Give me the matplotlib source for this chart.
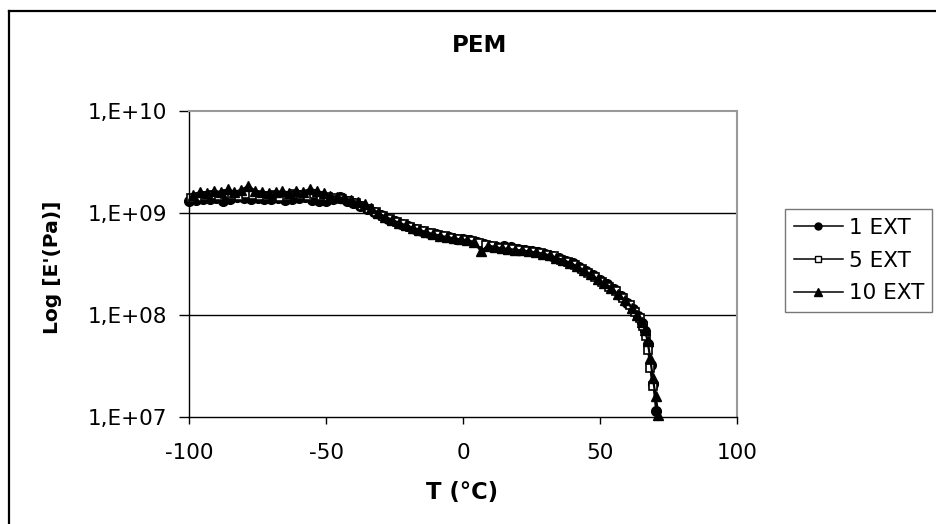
import math
import matplotlib
matplotlib.use("Agg")
import matplotlib.pyplot as plt
from matplotlib.lines import Line2D
from matplotlib.ticker import FixedLocator, FuncFormatter, NullLocator

# ---- data (E' in units of 1e9 Pa) ----
T_1 = [-100, -97.5, -95, -92.5, -90, -87.5, -85, -82.5, -80, -77.5, -75, -72.5,
       -70, -67.5, -65, -62.5, -60, -57.5, -55, -52.5, -50, -47.5, -45, -42.5,
       -40, -37.5, -35, -32.5, -30, -27.5, -25, -22.5, -20, -17.5, -15, -12.5,
       -10, -7.5, -5, -2.5, 0, 2.5, 5, 7.5, 10, 12.5, 15, 17.5, 20, 22.5, 25,
       27.5, 30, 32.5, 35, 37.5, 40, 42.5, 45, 47.5, 50, 52.5, 55, 57.5, 60,
       62, 64, 65.5, 66.5, 67.5, 68.5, 69.5, 70.5]
E_1 = [1.30, 1.34, 1.36, 1.38, 1.40, 1.30, 1.38, 1.42, 1.40, 1.38, 1.40, 1.36,
       1.38, 1.40, 1.35, 1.36, 1.40, 1.42, 1.34, 1.30, 1.32, 1.36, 1.45, 1.32,
       1.25, 1.18, 1.10, 1.02, 0.95, 0.88, 0.83, 0.78, 0.74, 0.70, 0.67, 0.64,
       0.62, 0.60, 0.58, 0.56, 0.55, 0.54, 0.52, 0.50, 0.48, 0.46, 0.47, 0.46,
       0.44, 0.43, 0.42, 0.41, 0.40, 0.38, 0.36, 0.34, 0.32, 0.295, 0.27, 0.245,
       0.22, 0.20, 0.18, 0.155, 0.132,
       0.115, 0.098, 0.083, 0.070, 0.052, 0.032, 0.021, 0.0115]

T_5 = [-99.2, -96.7, -94.2, -91.7, -89.2, -86.7, -84.2, -81.7, -79.2, -76.7,
       -74.2, -71.7, -69.2, -66.7, -64.2, -61.7, -59.2, -56.7, -54.2, -51.7,
       -49.2, -46.7, -44.2, -41.7, -39.2, -36.7, -34.2, -31.7, -29.2, -26.7,
       -24.2, -21.7, -19.2, -16.7, -14.2, -11.7, -9.2, -6.7, -4.2, -1.7, 0.8,
       3.3, 5.8, 8.3, 10.8, 13.3, 15.8, 18.3, 20.8, 23.3, 25.8, 28.3, 30.8,
       33.3, 35.8, 38.3, 40.8, 43.3, 45.8, 48.3, 50.8, 53.3, 55.8, 58.3, 60.8,
       62.8, 64.5, 65.8, 66.8, 67.6, 68.4, 69.2]
E_5 = [1.40, 1.45, 1.48, 1.50, 1.46, 1.52, 1.50, 1.48, 1.52, 1.50,
       1.46, 1.48, 1.50, 1.45, 1.48, 1.52, 1.50, 1.48, 1.52, 1.46,
       1.42, 1.40, 1.36, 1.32, 1.26, 1.18, 1.10, 1.02, 0.94, 0.88,
       0.82, 0.78, 0.73, 0.69, 0.66, 0.63, 0.61, 0.59, 0.57, 0.56, 0.545,
       0.53, 0.51, 0.49, 0.47, 0.455, 0.45, 0.44, 0.435, 0.425, 0.415, 0.405,
       0.39, 0.375, 0.35, 0.33, 0.31, 0.285, 0.26, 0.235, 0.21, 0.19, 0.17,
       0.148, 0.125,
       0.108, 0.093, 0.078, 0.062, 0.045, 0.030, 0.020]

T_10 = [-98.4, -95.9, -93.4, -90.9, -88.4, -85.9, -83.4, -80.9, -78.4, -75.9,
        -73.4, -70.9, -68.4, -65.9, -63.4, -60.9, -58.4, -55.9, -53.4, -50.9,
        -48.4, -45.9, -43.4, -40.9, -38.4, -35.9, -33.4, -30.9, -28.4, -25.9,
        -23.4, -20.9, -18.4, -15.9, -13.4, -10.9, -8.4, -5.9, -3.4, -0.9, 1.6,
        4.1, 6.6, 9.1, 11.6, 14.1, 16.6, 19.1, 21.6, 24.1, 26.6, 29.1, 31.6,
        34.1, 36.6, 39.1, 41.6, 44.1, 46.6, 49.1, 51.6, 54.1, 56.6, 59.1, 61.6,
        63.5, 65.2, 66.4, 67.4, 68.3, 69.3, 70.3, 71.3]
E_10 = [1.50, 1.62, 1.58, 1.66, 1.60, 1.70, 1.62, 1.68, 1.85, 1.65,
        1.62, 1.58, 1.60, 1.64, 1.58, 1.66, 1.62, 1.72, 1.66, 1.56,
        1.48, 1.44, 1.40, 1.34, 1.28, 1.22, 1.12, 1.00, 0.92, 0.86,
        0.80, 0.76, 0.72, 0.68, 0.65, 0.62, 0.60, 0.58, 0.565, 0.55, 0.54,
        0.52, 0.42, 0.48, 0.465, 0.45, 0.445, 0.435, 0.43, 0.42, 0.41, 0.40,
        0.385, 0.365, 0.345, 0.325, 0.30, 0.275, 0.25, 0.225, 0.205, 0.185,
        0.16, 0.14, 0.118,
        0.100, 0.085, 0.072, 0.055, 0.038, 0.024, 0.016, 0.0105]

labels = ["1 EXT", "5 EXT", "10 EXT"]
x_ticks = [-100, -50, 0, 50, 100]
y_ticks = [1e7, 1e8, 1e9, 1e10]
title = "PEM"
x_label = "T (°C)"
y_label = "Log [E'(Pa)]"

plt.rcParams['font.family'] = ['DejaVu Sans']
plt.rcParams['axes.unicode_minus'] = False

W, H = 936, 524
fig = plt.figure(figsize=(W / 100, H / 100), dpi=100)
fig.patch.set_facecolor("white")
ax = fig.add_axes([189 / W, 1 - 417 / H, (737 - 189) / W, (417 - 111) / H])

series = [(T_1, E_1, dict(marker='o', ms=7, mfc='black', mec='black')),
          (T_5, E_5, dict(marker='s', ms=6, mfc='white', mec='black', mew=1.2)),
          (T_10, E_10, dict(marker='^', ms=7.5, mfc='black', mec='black'))]
for (t, e, st), lab in zip(series, labels):
    ax.plot(t, [v * 1e9 for v in e], color='black', lw=1.6,
            clip_on=False, **st)

ax.set_yscale('log')
ax.set_xlim(-100, 100)
ax.set_ylim(1e7, 1e10)
ax.xaxis.set_major_locator(FixedLocator(x_ticks))
ax.yaxis.set_major_locator(FixedLocator(y_ticks))
ax.yaxis.set_minor_locator(NullLocator())
ax.yaxis.set_major_formatter(FuncFormatter(
    lambda v, p: "1,E+%02d" % round(math.log10(v))))
ax.tick_params(axis='y', direction='out', length=7, width=1, pad=8.5,
               labelsize=15.5, color='black')
ax.tick_params(axis='x', direction='out', length=5, width=1, pad=14,
               labelsize=15.5, color='black')

for y in [1e8, 1e9]:
    ax.axhline(y, color='black', lw=1.0, zorder=0.5)

for s in ['top', 'right']:
    ax.spines[s].set_color('#9a9a9a')
    ax.spines[s].set_linewidth(1.5)
for s in ['left', 'bottom']:
    ax.spines[s].set_color('black')
    ax.spines[s].set_linewidth(1.0)

fig.text(480 / W, 1 - 45 / H, title, ha='center', va='center',
         fontsize=16.5, fontweight='bold')
fig.text(462 / W, 1 - 493 / H, x_label, ha='center', va='center',
         fontsize=16.3, fontweight='bold')
fig.text(52 / W, 1 - 267 / H, y_label, ha='center', va='center',
         rotation=90, fontsize=14.6, fontweight='bold')

# legend handles (smaller markers, as in the reference legend)
leg_handles = [
    Line2D([], [], color='black', lw=1.1, marker='o', ms=5, mfc='black', mec='black'),
    Line2D([], [], color='black', lw=1.1, marker='s', ms=4, mfc='white', mec='black', mew=1.0),
    Line2D([], [], color='black', lw=1.1, marker='^', ms=6, mfc='black', mec='black'),
]
leg = fig.legend(handles=leg_handles, labels=labels, loc='upper left',
                 bbox_to_anchor=(785 / W, 1 - 209 / H), borderaxespad=0,
                 fontsize=15.5, frameon=True, fancybox=False, shadow=False,
                 handlelength=2.3, handletextpad=0.25, borderpad=0.4,
                 labelspacing=0.6)
leg.get_frame().set_edgecolor('#555555')
leg.get_frame().set_linewidth(1.0)

# outer chart-area border (left and top visible)
fig.add_artist(Line2D([9 / W, 9 / W], [1 - 11 / H, -0.05], color='black',
                      lw=1.6, transform=fig.transFigure))
fig.add_artist(Line2D([9 / W, 1.05], [1 - 11 / H, 1 - 11 / H], color='black',
                      lw=1.6, transform=fig.transFigure))

fig.savefig("out.png", dpi=100)
